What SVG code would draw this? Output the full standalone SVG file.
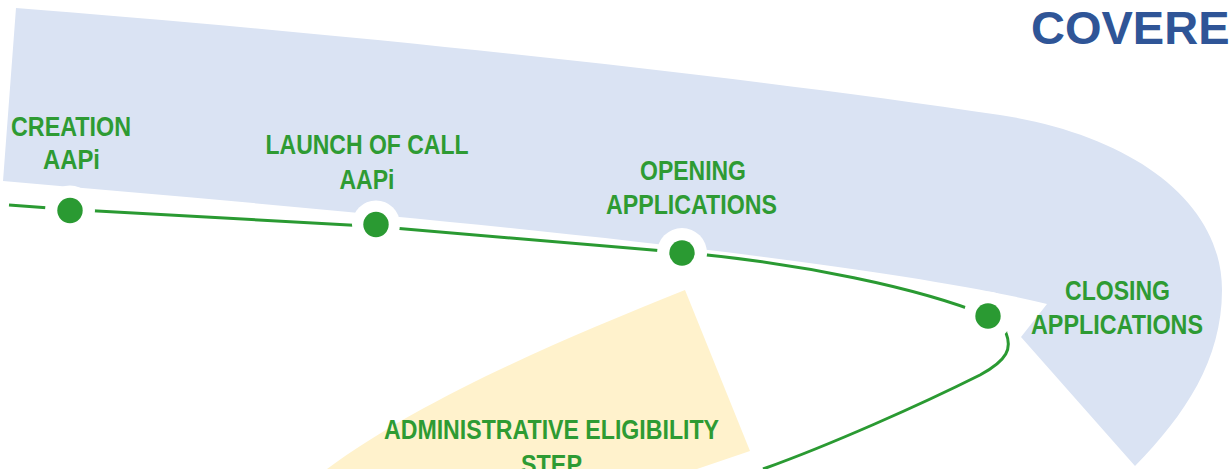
<svg xmlns="http://www.w3.org/2000/svg" width="1230" height="469" viewBox="0 0 1230 469">
<style>
.lbl{font-family:"Liberation Sans",Arial,sans-serif;font-weight:bold;font-size:27px;fill:#2E9B33}
.ttl{font-family:"Liberation Sans",Arial,sans-serif;font-weight:bold;font-size:47px;fill:#2F5597}
.halo{fill:#FFFFFF}
.dot{fill:#2A9A32}
.conn{fill:none;stroke:#2A9A32;stroke-width:3;stroke-linecap:butt}
</style>
<rect width="1230" height="469" fill="#FFFFFF"/>
<g id="band">
<path d="M16,8 C300,30 700,70 1000,115 C1130,135 1222,200 1222,290 C1222,360 1185,415 1135,466 L1021,337 L1047,304 C860,258 400,215 3,181 Z" fill="#DAE3F3"/>
</g>
<g id="phase">
<path d="M685,290 L750,451 L697,469 L327,469 C420,400 560,340 685,290 Z" fill="#FFF2CC"/>
</g>
<g id="title">
<text class="ttl" x="1031" y="44">COVERE</text>
</g>
<g id="connectors">
<path class="conn" d="M9,205 L70,209.5 L376,226.5 L682,252.5 C800,263 920,288 988,316"/>
<path class="conn" d="M988,316 Q1004,322 1006,333 C1012,348 1008,360 980,375 C920,405 830,445 763,469"/>
</g>
<g id="node-creation">
<circle class="halo" cx="70" cy="210.5" r="25"/>
<circle class="dot" cx="70" cy="210.5" r="12.7"/>
<text class="lbl" x="11" y="136" textLength="120" lengthAdjust="spacingAndGlyphs">CREATION</text>
<text class="lbl" x="43" y="169" textLength="57" lengthAdjust="spacingAndGlyphs">AAPi</text>
</g>
<g id="node-launch">
<circle class="halo" cx="376" cy="224.5" r="24"/>
<circle class="dot" cx="376" cy="224.5" r="12.7"/>
<text class="lbl" x="265.5" y="154" textLength="203" lengthAdjust="spacingAndGlyphs">LAUNCH OF CALL</text>
<text class="lbl" x="339.5" y="188.5" textLength="55" lengthAdjust="spacingAndGlyphs">AAPi</text>
</g>
<g id="node-opening">
<circle class="halo" cx="682" cy="253" r="25"/>
<circle class="dot" cx="682" cy="253" r="12.7"/>
<text class="lbl" x="640" y="179.5" textLength="106" lengthAdjust="spacingAndGlyphs">OPENING</text>
<text class="lbl" x="606" y="213.5" textLength="171" lengthAdjust="spacingAndGlyphs">APPLICATIONS</text>
</g>
<g id="node-closing">
<circle class="halo" cx="988" cy="316" r="24.5"/>
<circle class="dot" cx="988" cy="316" r="12.7"/>
<text class="lbl" x="1065" y="300" textLength="105" lengthAdjust="spacingAndGlyphs">CLOSING</text>
<text class="lbl" x="1031" y="333.5" textLength="172" lengthAdjust="spacingAndGlyphs">APPLICATIONS</text>
</g>
<g id="node-admin">
<text class="lbl" x="384" y="438.5" textLength="335" lengthAdjust="spacingAndGlyphs">ADMINISTRATIVE ELIGIBILITY</text>
<text class="lbl" x="521" y="474" textLength="61" lengthAdjust="spacingAndGlyphs">STEP</text>
</g>
</svg>
